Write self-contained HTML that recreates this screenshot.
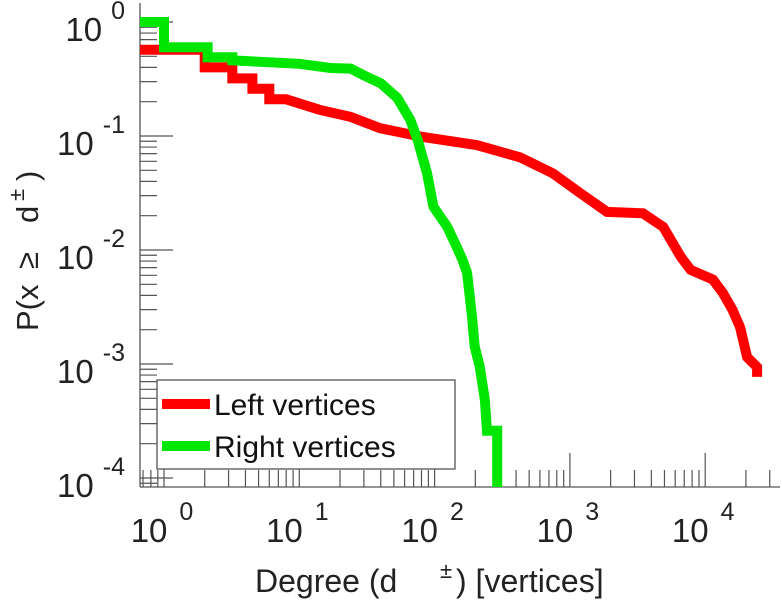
<!DOCTYPE html>
<html><head><meta charset="utf-8"><style>
html,body{margin:0;padding:0;background:#fff;}
svg{display:block;font-family:"Liberation Sans",sans-serif;}
</style></head><body>
<svg id="chart" width="782" height="600" viewBox="0 0 782 600" xmlns="http://www.w3.org/2000/svg">
<defs><clipPath id="plotclip"><rect x="140" y="0" width="642" height="487"/></clipPath></defs>
<g id="axes"></g>
<g id="series" clip-path="url(#plotclip)"></g>
<text transform="translate(38,331) rotate(-90)" font-size="31" fill="#222"><tspan x="0" y="0">P(x</tspan><tspan x="62" y="0">≥</tspan><tspan x="108" y="0">d</tspan><tspan x="130" y="-14" font-size="22">±</tspan><tspan x="150" y="0">)</tspan></text>
<text x="255" y="592" font-size="32" fill="#222">Degree (d<tspan x="440" dy="-14" font-size="22">±</tspan><tspan x="456" dy="14">) [vertices]</tspan></text>
<g>
<rect x="157" y="380" width="298" height="89" fill="#fff" stroke="#555" stroke-width="1.3"/>
<line x1="162" y1="404" x2="210" y2="404" stroke="#ff0000" stroke-width="10"/>
<text x="214" y="415" font-size="30" fill="#111">Left vertices</text>
<line x1="162" y1="446" x2="210" y2="446" stroke="#00e600" stroke-width="10"/>
<text x="214" y="457" font-size="30" fill="#111">Right vertices</text>
</g>
</svg>
<script>
const xTickExps = [0, 1, 2, 3, 4];
const yTickExps = [0, -1, -2, -3, -4];
const leftX = [0.66, 2, 2, 3.2, 3.2, 4.5, 4.5, 6, 6, 8, 14, 24, 39.5, 82, 206, 428, 750, 1190, 1880, 3470, 4900, 6600, 7800, 11400, 13500, 15900, 18100, 20400, 24200, 24200];
const leftY = [0.57, 0.57, 0.40, 0.40, 0.32, 0.32, 0.26, 0.26, 0.21, 0.21, 0.17, 0.147, 0.117, 0.098, 0.083, 0.065, 0.047, 0.0316, 0.0216, 0.021, 0.0159, 0.0087, 0.0067, 0.0055, 0.0042, 0.003, 0.0021, 0.00115, 0.00094, 0.00077];
const rightX = [0.66, 1, 1, 2.1, 2.1, 3.2, 3.2, 10, 17, 24, 30, 40, 53, 66, 75, 88, 98, 124, 146, 160, 174, 189, 198, 215, 235, 244, 290, 290];
const rightY = [1, 1, 0.6, 0.6, 0.49, 0.49, 0.46, 0.43, 0.395, 0.39, 0.34, 0.29, 0.216, 0.139, 0.092, 0.047, 0.024, 0.016, 0.0106, 0.0083, 0.0063, 0.0026, 0.00142, 0.00096, 0.00049, 0.00026, 0.00026, 0.00005];

const NS = "http://www.w3.org/2000/svg";
const X0 = 164, XD = 135.3, Y0 = 22, YD = 114;
const PL = 140, PR = 780, PB = 487;
function sx(v){ return X0 + Math.log10(v) * XD; }
function sy(v){ return Y0 - Math.log10(v) * YD; }
function mk(tag, attrs, parent){ const e = document.createElementNS(NS, tag); for (const k in attrs) e.setAttribute(k, attrs[k]); parent.appendChild(e); return e; }

const axes = document.getElementById('axes');
const col = "#555";
let l = mk('line', {x1: PL, y1: 3, x2: PL, y2: PB, stroke: col, 'stroke-width': 1.3}, axes);


l = mk('line', {x1: PL, y1: PB, x2: PR, y2: PB, stroke: col, 'stroke-width': 1.3}, axes);



for (let e = -1; e <= 4; e++) {
  for (let m = 1; m <= 9; m++) {
    const v = m * Math.pow(10, e);
    const px = sx(v);
    if (px < PL || px > PR) continue;
    const len = m === 1 ? 34 : 17;
    const t = mk('line', {x1: px, y1: PB, x2: px, y2: PB - len, stroke: col, 'stroke-width': 1.2}, axes);
    
    
  }
}
for (let e = -5; e <= 0; e++) {
  for (let m = 1; m <= 9; m++) {
    const v = m * Math.pow(10, e);
    const py = sy(v);
    if (py < 3 || py > PB) continue;
    const len = m === 1 ? 33 : 17;
    const t = mk('line', {x1: PL, y1: py, x2: PL + len, y2: py, stroke: col, 'stroke-width': 1.2}, axes);
    
    
  }
}
xTickExps.forEach(function(e){
  const px = sx(Math.pow(10, e));
  const t = mk('text', {x: px - 2, y: 542, 'text-anchor': 'middle', 'font-size': 33, fill: '#222'}, axes);
  
  
  const a = mk('tspan', {}, t); a.textContent = '10';
  const b = mk('tspan', {dx: 12, dy: -22, 'font-size': 25}, t); b.textContent = String(e);
});
yTickExps.forEach(function(e){
  const py = sy(Math.pow(10, e));
  const t = mk('text', {x: 125, y: py + 19, 'text-anchor': 'end', 'font-size': 33, fill: '#222'}, axes);
  
  
  const a = mk('tspan', {}, t); a.textContent = '10';
  const b = mk('tspan', {dx: 9, dy: -22, 'font-size': 25}, t); b.textContent = String(e);
});

const series = document.getElementById('series');
function draw(xs, ys, color, name){
  const pts = xs.map(function(x, i){ return sx(x).toFixed(1) + ',' + sy(ys[i]).toFixed(1); }).join(' ');
  const p = mk('polyline', {points: pts, fill: 'none', stroke: color, 'stroke-width': 10, 'stroke-linejoin': 'miter', 'stroke-linecap': 'butt'}, series);
  
  
}
draw(leftX, leftY, '#ff0000', 'left-vertices-line');
draw(rightX, rightY, '#00e600', 'right-vertices-line');
</script>
</body></html>
